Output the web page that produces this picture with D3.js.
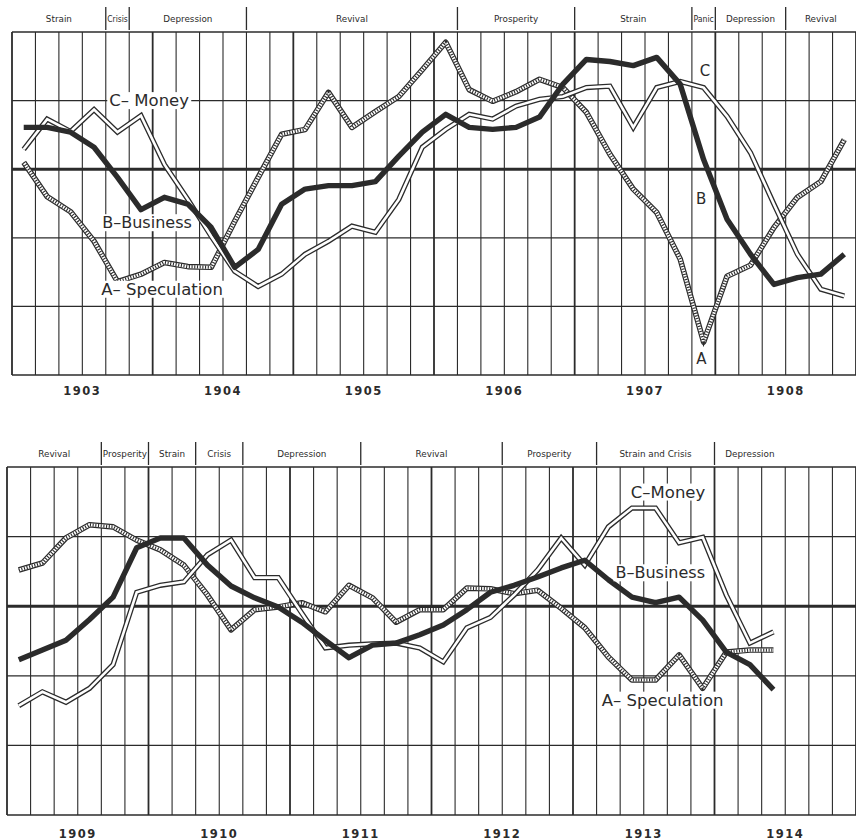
<!DOCTYPE html>
<html>
<head>
<meta charset="utf-8">
<script src="https://cdn.jsdelivr.net/npm/d3@7"></script>
<style>
  body { margin: 0; background: #fff; }
  svg { display: block; }
</style>
</head>
<body>
<svg id="chart" width="856" height="840"></svg>
<script>
// bimonthly readings, one per grid interval (centre of the two months)
const yearsTop = ["1903", "1904", "1905", "1906", "1907", "1908"];
const yearsBottom = ["1909", "1910", "1911", "1912", "1913", "1914"];

const phasesTop = ["Strain", "Crisis", "Depression", "Revival", "Prosperity", "Strain", "Panic", "Depression", "Revival"];
const phaseBreaksTop = [0, 4, 5, 10, 19, 24, 29, 30, 33, 36];
const phasesBottom = ["Revival", "Prosperity", "Strain", "Crisis", "Depression", "Revival", "Prosperity", "Strain and Crisis", "Depression"];
const phaseBreaksBottom = [0, 4, 6, 8, 10, 15, 21, 25, 30, 33];

const speculationTop = [0.10, -0.40, -0.62, -1.05, -1.64, -1.53, -1.36, -1.42, -1.43, -0.76, -0.12, 0.51,
  0.58, 1.12, 0.61, 0.84, 1.06, 1.45, 1.85, 1.16, 0.99, 1.13, 1.31, 1.19,
  0.83, 0.22, -0.29, -0.63, -1.31, -2.52, -1.56, -1.40, -0.85, -0.41, -0.18, 0.43];
const businessTop = [0.61, 0.61, 0.54, 0.32, -0.12, -0.59, -0.41, -0.51, -0.85, -1.43, -1.17, -0.51,
  -0.29, -0.24, -0.24, -0.18, 0.19, 0.54, 0.80, 0.61, 0.58, 0.61, 0.76, 1.24,
  1.60, 1.57, 1.51, 1.63, 1.24, 0.14, -0.73, -1.24, -1.68, -1.58, -1.53, -1.24];
const moneyTop = [0.29, 0.73, 0.55, 0.87, 0.54, 0.78, 0.07, -0.44, -0.98, -1.49, -1.71, -1.53,
  -1.24, -1.05, -0.83, -0.92, -0.44, 0.32, 0.58, 0.80, 0.73, 0.92, 1.02, 1.06,
  1.19, 1.21, 0.61, 1.19, 1.28, 1.19, 0.77, 0.24, -0.51, -1.24, -1.75, -1.85];

const speculationBottom = [0.52, 0.62, 0.98, 1.17, 1.14, 0.95, 0.81, 0.59, 0.16, -0.34, -0.05, -0.01,
  0.05, -0.08, 0.30, 0.12, -0.23, -0.05, -0.05, 0.26, 0.25, 0.18, 0.23, -0.03,
  -0.31, -0.73, -1.06, -1.06, -0.70, -1.18, -0.66, -0.63, -0.63];
const businessBottom = [-0.77, -0.63, -0.49, -0.19, 0.13, 0.84, 0.98, 0.98, 0.59, 0.29, 0.12, -0.01,
  -0.23, -0.49, -0.74, -0.56, -0.53, -0.41, -0.27, -0.05, 0.20, 0.30, 0.42, 0.55,
  0.66, 0.38, 0.13, 0.05, 0.13, -0.20, -0.66, -0.84, -1.20];
const moneyBottom = [-1.43, -1.23, -1.38, -1.18, -0.84, 0.20, 0.30, 0.35, 0.74, 0.95, 0.41, 0.41,
  -0.10, -0.60, -0.56, -0.54, -0.53, -0.60, -0.80, -0.31, -0.16, 0.16, 0.52, 0.98,
  0.59, 1.14, 1.41, 1.41, 0.91, 0.99, 0.16, -0.53, -0.37];

const INK = "#2b2b2b";
const FONT = "'DejaVu Sans', sans-serif";
const svg = d3.select("#chart");

function drawSpeculation(g, line, values) {
  g.append("path").attr("d", line(values)).attr("fill", "none")
    .attr("stroke", INK).attr("stroke-width", 5.6).attr("stroke-linejoin", "round");
  g.append("path").attr("d", line(values)).attr("fill", "none")
    .attr("stroke", "#fff").attr("stroke-width", 3.2).attr("stroke-linejoin", "round");
  g.append("path").attr("d", line(values)).attr("fill", "none")
    .attr("stroke", INK).attr("stroke-width", 3.2).attr("stroke-dasharray", "1.1 1.6");
}

function drawMoney(g, line, values) {
  g.append("path").attr("d", line(values)).attr("fill", "none")
    .attr("stroke", INK).attr("stroke-width", 5.2).attr("stroke-linejoin", "miter");
  g.append("path").attr("d", line(values)).attr("fill", "none")
    .attr("stroke", "#fff").attr("stroke-width", 2.6).attr("stroke-linejoin", "miter");
}

function drawBusiness(g, line, values) {
  g.append("path").attr("d", line(values)).attr("fill", "none")
    .attr("stroke", INK).attr("stroke-width", 5.4).attr("stroke-linejoin", "round");
}

// text with a white patch behind it so the grid is broken round the lettering
function addLabel(g, px, py, text, size) {
  const lg = g.append("g");
  const t = lg.append("text").attr("x", px).attr("y", py)
    .attr("text-anchor", "middle").attr("dominant-baseline", "central")
    .attr("font-family", FONT).attr("font-size", size).attr("fill", INK).text(text);
  const bb = t.node().getBBox();
  lg.insert("rect", "text").attr("x", bb.x - 2).attr("y", bb.y + 1)
    .attr("width", bb.width + 4).attr("height", bb.height - 2).attr("fill", "#fff");
}

function drawPanel(p) {
  const x = d3.scaleLinear().domain([0, 36]).range([p.left, 856]);
  const y = d3.scaleLinear().domain([-3, 2]).range([p.bottom, p.top]);
  const g = svg.append("g");

  g.selectAll("line.v").data(d3.range(0, 37)).join("line").attr("class", "v")
    .attr("x1", (d) => x(d)).attr("x2", (d) => x(d))
    .attr("y1", y(2)).attr("y2", y(-3))
    .attr("stroke", INK).attr("stroke-width", (d) => (d % 6 === 0 ? 1.8 : 1.1));

  g.selectAll("line.h").data(d3.range(-3, 3)).join("line").attr("class", "h")
    .attr("x1", p.left).attr("x2", 856)
    .attr("y1", (d) => y(d)).attr("y2", (d) => y(d))
    .attr("stroke", INK).attr("stroke-width", (d) => (d === 0 ? 3 : (d === 2 || d === -3 ? 1.6 : 1.2)));

  // phase headings
  const breaks = p.breaks;
  g.selectAll("line.sep").data(breaks.slice(1, -1)).join("line").attr("class", "sep")
    .attr("x1", (d) => x(d)).attr("x2", (d) => x(d))
    .attr("y1", p.top - 25).attr("y2", p.top - 2)
    .attr("stroke", INK).attr("stroke-width", 1.3);

  p.phases.forEach((name, i) => {
    const a = x(breaks[i]), b = x(breaks[i + 1]);
    const t = g.append("text").attr("x", (a + b) / 2).attr("y", p.top - 10)
      .attr("text-anchor", "middle").attr("font-family", FONT).attr("font-size", 8.8)
      .attr("fill", INK).text(name);
    const w = t.node().getComputedTextLength();
    if (w > b - a - 3) {
      t.attr("textLength", b - a - 3).attr("lengthAdjust", "spacingAndGlyphs");
    }
  });

  // year labels
  g.selectAll("text.year").data(p.years).join("text").attr("class", "year")
    .attr("x", (d, i) => x(i * 6 + 3)).attr("y", p.bottom + p.yearGap)
    .attr("text-anchor", "middle").attr("font-family", FONT).attr("font-size", 11.5)
    .attr("font-weight", "bold").attr("letter-spacing", 1.5).attr("fill", INK).text((d) => d);

  const line = d3.line().x((d, i) => x(i + 0.5)).y((d) => y(d));
  const curves = g.append("g");
  drawSpeculation(curves, line, p.speculation);
  drawMoney(curves, line, p.money);
  drawBusiness(curves, line, p.business);

  p.labels.forEach((l) => addLabel(g, x(l[0]), y(l[1]), l[2], l[3]));
}

drawPanel({
  left: 12, top: 32, bottom: 375, yearGap: 20,
  years: yearsTop, phases: phasesTop, breaks: phaseBreaksTop,
  speculation: speculationTop, business: businessTop, money: moneyTop,
  labels: [
    [5.85, 1.0, "C– Money", 16.5],
    [5.76, -0.78, "B–Business", 16],
    [6.4, -1.75, "A– Speculation", 16.5],
    [29.56, 1.43, "C", 15],
    [29.4, -0.44, "B", 15],
    [29.4, -2.77, "A", 15]
  ]
});

drawPanel({
  left: 7, top: 467, bottom: 815, yearGap: 23,
  years: yearsBottom, phases: phasesBottom, breaks: phaseBreaksBottom,
  speculation: speculationBottom, business: businessBottom, money: moneyBottom,
  labels: [
    [28.03, 1.64, "C–Money", 16.5],
    [27.7, 0.48, "B–Business", 16],
    [27.8, -1.35, "A– Speculation", 16.5]
  ]
});
</script>
</body>
</html>
